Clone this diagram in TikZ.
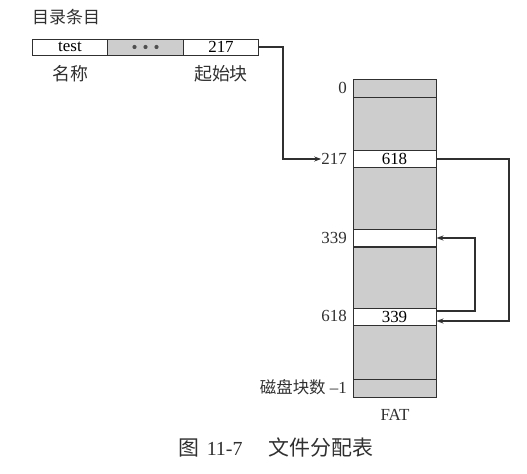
\documentclass[tikz,border=0pt]{standalone}
\usepackage{fontspec}
\setmainfont{Liberation Serif}
\newfontfamily\cjk{Noto Sans CJK SC}
\usetikzlibrary{arrows.meta}
\definecolor{cellgray}{HTML}{CDCDCD}
\definecolor{inkc}{HTML}{303030}
\begin{document}
\begin{tikzpicture}[x=1bp,y=-1bp,
  cell/.style={draw=inkc,line width=0.9bp,inner sep=0pt,minimum width=83bp,font=\fontsize{17}{17}\selectfont},
  gcell/.style={cell,fill=cellgray},
  wcell/.style={cell,fill=white},
  dcell/.style={draw=inkc,line width=0.9bp,inner sep=0pt,minimum height=16bp,font=\fontsize{17}{17}\selectfont},
  lab/.style={inner sep=0pt,font=\fontsize{17}{17}\selectfont,text=inkc},
  clab/.style={inner sep=0pt,font=\cjk\fontsize{17}{17}\selectfont,text=inkc},
  link/.style={draw=inkc,line width=1.6bp,-{Stealth[length=7bp,width=5bp]}}]
\useasboundingbox (0,0) rectangle (527,474);
% directory entry
\node[clab,anchor=west] (dirt) at (32,17) {目录条目};
\node[dcell,fill=white,minimum width=75bp] (name) at (70,47) {test};
\node[dcell,fill=cellgray,minimum width=76bp] (dots) at (145.5,47) {};
\foreach \i in {-11,0,11} \fill[inkc!85] ([xshift=\i bp]dots.center) circle (2.1bp);
\node[dcell,fill=white,minimum width=75bp] (start) at (221,47) {217};
\node[clab,font=\cjk\fontsize{18}{18}\selectfont] (namel) at (70,74) {名称};
\node[clab,font=\cjk\fontsize{18}{18}\selectfont] (startl) at (221,74) {起始块};
% FAT
\node[gcell,minimum height=18bp] (c0) at (394.5,88) {};
\node[gcell,minimum height=53bp] (g1) at (394.5,123.5) {};
\node[wcell,minimum height=17bp] (c217) at (394.5,159) {618};
\node[gcell,minimum height=62bp] (g2) at (394.5,198.5) {};
\node[wcell,minimum height=17bp] (c339) at (394.5,238) {};
\node[gcell,minimum height=61bp] (g3) at (394.5,277.5) {};
\node[wcell,minimum height=17bp] (c618) at (394.5,317) {339};
\node[gcell,minimum height=54bp] (g4) at (394.5,352) {};
\node[gcell,minimum height=18bp] (cm1) at (394.5,388) {};
\node[lab] (fat) at (395,415) {FAT};
% row labels
\node[lab,anchor=east] (l0) at (347,88) {0};
\node[lab,anchor=east] (l217) at (347,159) {217};
\node[lab,anchor=east] (l339) at (347,238) {339};
\node[lab,anchor=east] (l618) at (347,316) {618};
\node[lab,anchor=east] (lm1) at (347,387) {{\cjk\fontsize{16.5}{16.5}\selectfont 磁盘块数}\ \textendash1};
% caption
\node[clab,font=\cjk\fontsize{21}{21}\selectfont] (cap) at (276,448) {图\hspace{7bp}{\rmfamily\fontsize{20}{20}\selectfont 11-7}\hspace{26bp}文件分配表};
% connectors
\coordinate (a1) at (283,47);
\coordinate (a2) at (283,159);
\draw[link] (start.east) -- (a1) -- (a2) -- (l217.west);
\coordinate (b1) at (509,159);
\coordinate (b2) at (509,321);
\coordinate (b3) at (c618.east |- b2);
\draw[link] (c217.east) -- (b1) -- (b2) -- (b3);
\coordinate (d0) at (c618.east |- 0,311);
\coordinate (d1) at (475,311);
\coordinate (d2) at (475,238);
\coordinate (d3) at (c339.east |- d2);
\draw[link] (d0) -- (d1) -- (d2) -- (d3);
\end{tikzpicture}
\end{document}
